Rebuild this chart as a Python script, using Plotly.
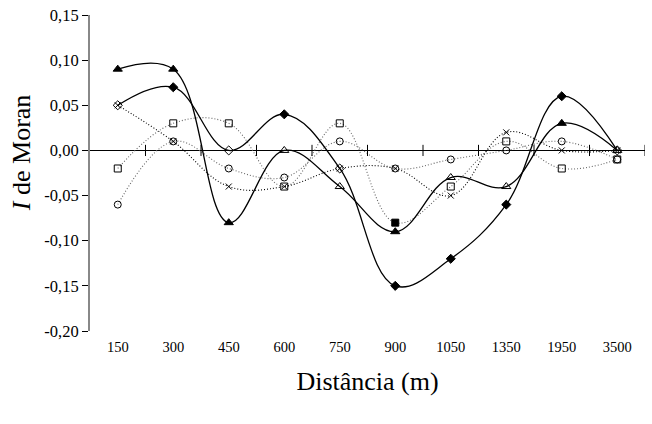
import plotly.graph_objects as go

categories = ["150", "300", "450", "600", "750", "900", "1050", "1350", "1950", "3500"]

tri_vals = [0.09, 0.09, -0.08, 0.00, -0.04, -0.09, -0.03, -0.04, 0.03, 0.00]
tri_sym = ["triangle-up", "triangle-up", "triangle-up", "triangle-up-open", "triangle-up-open",
           "triangle-up", "triangle-up-open", "triangle-up-open", "triangle-up", "triangle-up-open"]

dia_vals = [0.05, 0.07, 0.00, 0.04, -0.02, -0.15, -0.12, -0.06, 0.06, 0.00]
dia_sym = ["diamond-open", "diamond", "diamond-open", "diamond", "diamond-open",
           "diamond", "diamond", "diamond", "diamond", "diamond-open"]

sq_vals = [-0.02, 0.03, 0.03, -0.04, 0.03, -0.08, -0.04, 0.01, -0.02, -0.01]
sq_sym = ["square-open"] * 5 + ["square"] + ["square-open"] * 4

circ_vals = [-0.06, 0.01, -0.02, -0.03, 0.01, -0.02, -0.01, 0.00, 0.01, -0.01]

x_vals = [0.05, 0.01, -0.04, -0.04, -0.02, -0.02, -0.05, 0.02, 0.00, 0.00]

y_ticks = [0.15, 0.10, 0.05, 0.00, -0.05, -0.10, -0.15, -0.20]
y_ticktext = [f"{v:.2f}".replace(".", ",") for v in y_ticks]

idx = list(range(len(categories)))
FONT = "Liberation Serif"
DOT = "1px,2px"

fig = go.Figure()

# dotted series
fig.add_trace(go.Scatter(x=idx, y=sq_vals, mode="lines+markers",
                         line=dict(color="#666666", width=1.1, dash=DOT, shape="spline", smoothing=1.1),
                         marker=dict(symbol=sq_sym, size=7, color="black", line=dict(color="black", width=1))))
fig.add_trace(go.Scatter(x=idx, y=circ_vals, mode="lines+markers",
                         line=dict(color="#666666", width=1.1, dash=DOT, shape="spline", smoothing=1.1),
                         marker=dict(symbol="circle-open", size=7, color="black", line=dict(color="black", width=1))))
fig.add_trace(go.Scatter(x=idx, y=x_vals, mode="lines+markers",
                         line=dict(color="black", width=1.1, dash=DOT, shape="spline", smoothing=1.1),
                         marker=dict(symbol="x-thin-open", size=6, color="black", line=dict(color="black", width=1))))

# solid series
fig.add_trace(go.Scatter(x=idx, y=tri_vals, mode="lines+markers",
                         line=dict(color="black", width=1.3, shape="spline", smoothing=1.1),
                         marker=dict(symbol=tri_sym, size=8, color="black", line=dict(color="black", width=1))))
fig.add_trace(go.Scatter(x=idx, y=dia_vals, mode="lines+markers",
                         line=dict(color="black", width=1.3, shape="spline", smoothing=1.1),
                         marker=dict(symbol=dia_sym, size=7, color="black", line=dict(color="black", width=1))))

# tick marks on the zero line at category boundaries
bounds = [i + 0.5 for i in idx]
fig.add_trace(go.Scatter(x=bounds, y=[0] * len(bounds), mode="markers",
                         marker=dict(symbol="line-ns-open", size=8, color="black",
                                     line=dict(color="black", width=1)),
                         hoverinfo="skip"))

fig.update_layout(
    width=652, height=424,
    margin=dict(l=90, r=7, t=15, b=93),
    paper_bgcolor="white", plot_bgcolor="white",
    showlegend=False,
    font=dict(family=FONT, color="black", size=14),
    xaxis=dict(
        range=[-0.5, len(categories) - 0.5],
        tickmode="array", tickvals=idx, ticktext=categories,
        showgrid=False, zeroline=False, showline=False, ticks="",
        ticklabelstandoff=5,
        tickfont=dict(family=FONT, size=14.5, color="black"),
        title=dict(text="Distância (m)", font=dict(family=FONT, size=26, color="black"), standoff=18),
    ),
    yaxis=dict(
        range=[-0.20, 0.15],
        tickmode="array", tickvals=y_ticks, ticktext=y_ticktext,
        showgrid=False,
        zeroline=True, zerolinecolor="black", zerolinewidth=1.2,
        showline=True, linecolor="#888888", linewidth=2,
        ticks="outside", ticklen=6, tickcolor="black", tickwidth=1,
        tickfont=dict(family=FONT, size=16.5, color="black"),
    ),
    annotations=[dict(
        text="<i>I</i> de Moran", textangle=-90,
        xref="paper", yref="paper", x=-0.123, y=0.565,
        xanchor="center", yanchor="middle", showarrow=False,
        font=dict(family=FONT, size=26, color="black"),
    )],
)

fig.write_html("out.html")
